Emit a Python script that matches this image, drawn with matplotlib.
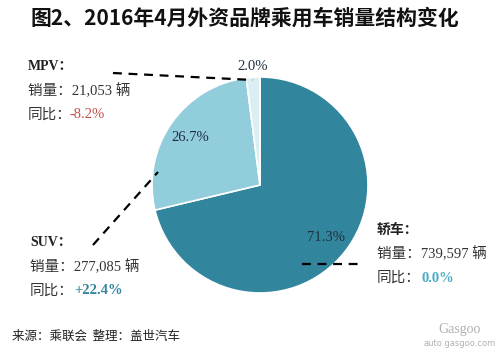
import matplotlib
matplotlib.use('agg')
import matplotlib.pyplot as plt
import numpy as np

# data
categories = ['轿车', 'SUV', 'MPV']
sales = [739597, 277085, 21053]
sales_labels = ['739,597', '277,085', '21,053']
yoy_labels = ['0.0%', '+22.4%', '-8.2%']
colors = ['#31869e', '#92cddc', '#daeef3']
yoy_colors = ['#4bacc6', '#31869e', '#c0504d']

W, H = 500, 354
CJK = ['Liberation Serif', 'Noto Sans CJK SC']
fig = plt.figure(figsize=(W / 100, H / 100), dpi=100)
fig.patch.set_facecolor('white')


def px(x, y):
    return x / W, 1 - y / H


# pie, centre (260,185) r=108 px
cx, cy, r = 260, 185, 108
ax = fig.add_axes([(cx - r) / W, (H - cy - r) / H, 2 * r / W, 2 * r / H])
wedges, _ = ax.pie(sales, colors=colors, startangle=90, counterclock=False,
                   wedgeprops=dict(edgecolor='white', linewidth=1.2))
ax.set_xlim(-1, 1)
ax.set_ylim(-1, 1)
ax.set_aspect('equal')
ax.axis('off')

total = sum(sales)
dist = [0.78, 0.78, 1.1]
for w, v, d in zip(wedges, sales, dist):
    mid = np.deg2rad((w.theta1 + w.theta2) / 2)
    ax.text(d * np.cos(mid), d * np.sin(mid), '{:.1f}%'.format(v / total * 100),
            ha='center', va='center', fontsize=10.5, color='#1f2f3f',
            family='Liberation Serif')

# title
fig.text(*px(245, 18), '图2、2016年4月外资品牌乘用车销量结构变化', ha='center',
         va='center', fontsize=15, fontweight='bold',
         family=['Noto Sans CJK SC', 'DejaVu Sans'], color='#111111')

# category blocks: (x, y of name line, value offset)
blocks = {'MPV': (28, 67, 42), 'SUV': (30, 243, 44), '轿车': (377, 230, 45)}
for name, sale, yoy, yc in zip(categories, sales_labels, yoy_labels, yoy_colors):
    x, y, off = blocks[name]
    fig.text(*px(x, y), name + '：', fontsize=10, fontweight='bold',
             family=CJK, va='center', color='#222222')
    fig.text(*px(x, y + 24), '销量：' + sale + ' 辆', fontsize=10.5,
             family=CJK, va='center', color='#333333')
    fig.text(*px(x, y + 48), '同比：', fontsize=10.5, family=CJK,
             va='center', color='#333333')
    fig.text(*px(x + off, y + 48), yoy, fontsize=10.5, family='Liberation Serif',
             fontweight='normal' if name == 'MPV' else 'bold',
             va='center', color=yc)

# leader lines
leaders = [((113, 73), (253, 80)), ((93, 245), (158, 172)), ((302, 264), (358, 264))]
for (x0, y0), (x1, y1) in leaders:
    fig.add_artist(plt.Line2D([x0 / W, x1 / W], [1 - y0 / H, 1 - y1 / H],
                              transform=fig.transFigure, color='black',
                              linewidth=1.6, linestyle=(0, (4, 3))))

# footer
fig.text(*px(12, 336), '来源：乘联会  整理：盖世汽车', fontsize=9, style='italic',
         family=['Noto Sans CJK SC', 'DejaVu Sans'], va='center', color='#222222')
fig.text(*px(460, 330), 'Gasgoo', fontsize=10, family='Liberation Serif',
         ha='center', va='center', color='#b0b0b0')
fig.text(*px(460, 344), 'auto.gasgoo.com', fontsize=6, ha='center',
         va='center', color='#b0b0b0')

fig.savefig('out.png', dpi=100)
